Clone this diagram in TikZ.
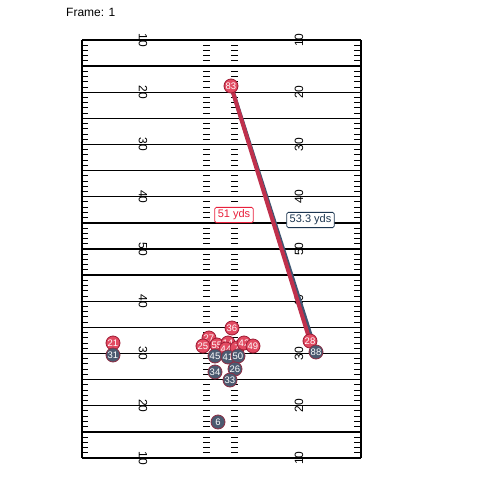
\documentclass[tikz,border=0pt]{standalone}
\usepackage{fontspec}
\setmainfont{Liberation Sans}
\definecolor{homefill}{HTML}{E24A61}
\definecolor{homeedge}{HTML}{9E1B35}
\definecolor{awayfill}{HTML}{4B5A70}
\definecolor{awayedge}{HTML}{8E2E44}
\definecolor{homepath}{HTML}{C0304C}
\definecolor{awaypath}{HTML}{3E5572}
\definecolor{distred}{HTML}{E8203C}
\definecolor{distblue}{HTML}{1B3550}
\begin{document}
\begin{tikzpicture}[x=1pt,y=-1pt,
  fieldline/.style={line width=1.4pt,black},
  tickmark/.style={line width=1pt,black},
  yardnum/.style={font=\fontsize{12}{12}\selectfont,inner sep=0pt},
  player/.style={circle,line width=0.8pt,minimum size=14pt,inner sep=0pt,text=white,font=\fontsize{9.5}{9.5}\selectfont},
  home/.style={player,draw=homeedge,fill=homefill},
  away/.style={player,draw=awayedge,fill=awayfill},
  pathline/.style={line width=4pt,line cap=round},
  distlabel/.style={draw,fill=white,rounded corners=1.5pt,inner xsep=3pt,inner ysep=2.5pt,font=\fontsize{11}{11}\selectfont,line width=0.8pt}]
\useasboundingbox (0,0) rectangle (480,480);
\fill[white] (0,0) rectangle (480,480);
\node[anchor=west,inner sep=0pt,font=\fontsize{12}{12}\selectfont] (frame) at (66,12) {Frame: 1};
% field
\foreach \k in {0,...,16}{
  \draw[fieldline] (82,{40+26.125*\k}) -- (361,{40+26.125*\k});
}
\draw[fieldline] (82,40) -- (82,458);
\draw[fieldline] (361,40) -- (361,458);
\foreach \k in {0,...,15}{
  \foreach \j in {1,...,4}{
    \pgfmathsetmacro\yy{40+26.125*\k+5.225*\j}
    \draw[tickmark] (82,\yy) -- (88,\yy);
    \draw[tickmark] (203,\yy) -- (210,\yy);
    \draw[tickmark] (231,\yy) -- (238,\yy);
    \draw[tickmark] (354,\yy) -- (361,\yy);
  }
}
\foreach \k/\n in {0/10,2/20,4/30,6/40,8/50,10/40,12/30,14/20,16/10}{
  \node[yardnum,rotate=-90] (L\k) at (143,{40+26.125*\k}) {\n};
  \node[yardnum,rotate=90] (R\k) at (299,{40+26.125*\k}) {\n};
}
% coordinates of players
\coordinate (c83) at (231,86);
\coordinate (c28) at (310,341);
\coordinate (c88) at (316,352);
% paths
\draw[pathline,awaypath] (c83) -- (c88);
\draw[pathline,homepath] (c83) -- (c28);
% home players
\node[home] (p21) at (113,343) {21};
\node[home] (p36) at (232,328) {36};
\node[home] (p27) at (209,338) {27};
\node[home] (p25) at (203,346) {25};
\node[home] (p55) at (217,345) {55};
\node[home] (p14) at (228,343) {14};
\node[home] (p44) at (226,349) {44};
\node[home] (p7) at (237,348) {7};
\node[home] (p42) at (244,343) {42};
\node[home] (p49) at (253,346) {49};
\node[home] (p28) at (c28) {28};
\node[home] (p83) at (c83) {83};
% away players
\node[away] (p31) at (113,355) {31};
\node[away] (p45) at (215,356) {45};
\node[away] (p41) at (228,357) {41};
\node[away] (p50) at (238,356) {50};
\node[away] (p34) at (215,372) {34};
\node[away] (p26) at (235,369) {26};
\node[away] (p33) at (230,380) {33};
\node[away] (p88) at (c88) {88};
\node[away] (p6) at (218,422) {6};
% distance labels
\node[distlabel,draw=distred,text=distred] (d1) at (234,215) {51 yds};
\node[distlabel,draw=distblue,text=distblue] (d2) at (310.5,220) {53.3 yds};
\end{tikzpicture}
\end{document}
